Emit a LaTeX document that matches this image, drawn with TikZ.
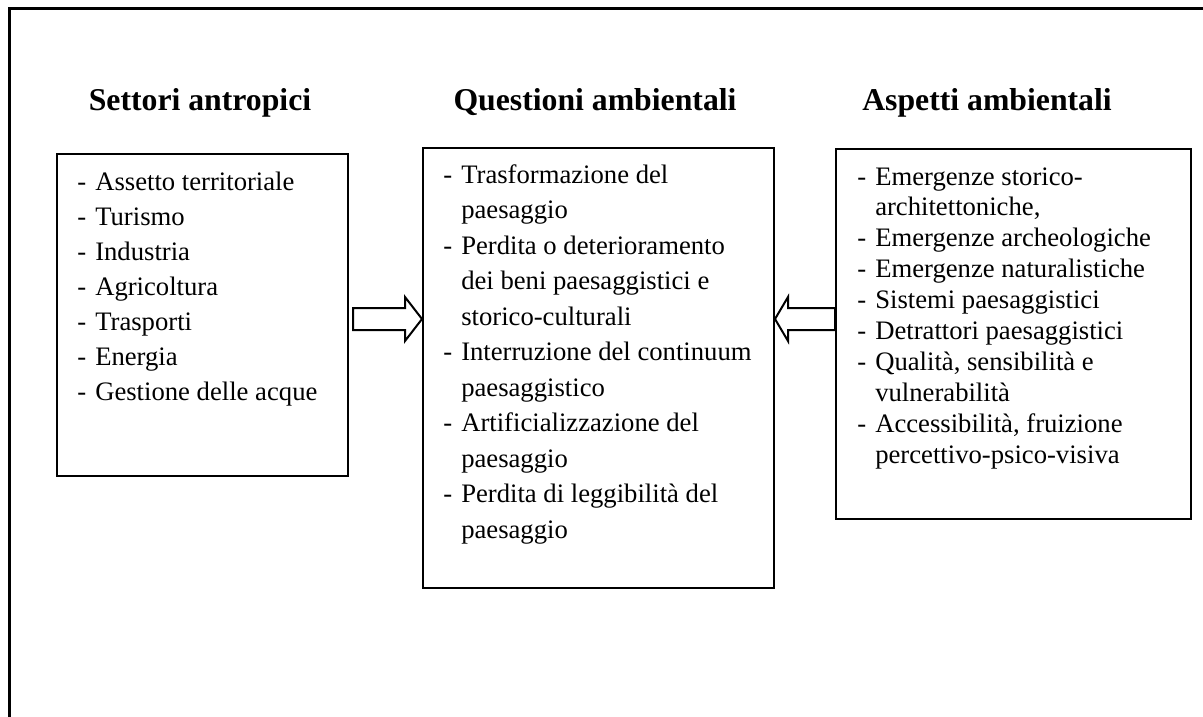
\documentclass[tikz,border=0pt]{standalone}
\usepackage{fontspec}
\setmainfont{Liberation Serif}
\begin{document}
\begin{tikzpicture}[x=0.75pt,y=-0.75pt,
  boxst/.style={draw,line width=1.5pt,inner sep=0pt,anchor=north west},
  item/.style={anchor=base west,inner sep=0pt,font=\fontsize{20}{24}\selectfont},
  dashst/.style={anchor=base west,inner sep=0pt,font=\fontsize{20}{24}\selectfont},
  titlest/.style={anchor=base,inner sep=0pt,font=\fontsize{23.8}{28}\selectfont\bfseries},
  framest/.style={line width=2.25pt},
  blockarrow/.style={draw,line width=1.5pt,fill=white,line join=miter}]
\useasboundingbox (0,0) rectangle (1203,717);
% outer frame (only top and left visible)
\draw[framest] (9,717) -- (9,9) -- (1203,9);
% boxes
\node[boxst,minimum width=218.25pt,minimum height=241.5pt] (lbox) at (56,153) {};
\node[boxst,minimum width=263.25pt,minimum height=330pt] (mbox) at (422,147) {};
\node[boxst,minimum width=266.25pt,minimum height=277.5pt] (rbox) at (835,148) {};
% titles
\node[titlest] (tl) at (200,111) {Settori antropici};
\node[titlest] (tm) at (595,111) {Questioni ambientali};
\node[titlest] (tr) at (987,111) {Aspetti ambientali};
% left items
\foreach \t [count=\i from 0] in {Assetto territoriale,Turismo,Industria,Agricoltura,Trasporti,Energia,Gestione delle acque}{
  \node[dashst] (ld\i) at (77,{190+35*\i}) {-};
  \node[item] (lt\i) at (95,{190+35*\i}) {\t};
}
% middle items
\foreach \t/\d [count=\i from 0] in {Trasformazione del/1,paesaggio/0,Perdita o deterioramento/1,dei beni paesaggistici e/0,storico-culturali/0,Interruzione del continuum/1,paesaggistico/0,Artificializzazione del/1,paesaggio/0,Perdita di leggibilità del/1,paesaggio/0}{
  \ifnum\d=1 \node[dashst] (md\i) at (443,{183+35.5*\i}) {-};\fi
  \node[item] (mt\i) at (461,{183+35.5*\i}) {\t};
}
% right items
\foreach \t/\d [count=\i from 0] in {Emergenze storico-/1,{architettoniche,}/0,Emergenze archeologiche/1,Emergenze naturalistiche/1,Sistemi paesaggistici/1,Detrattori paesaggistici/1,{Qualità, sensibilità e}/1,vulnerabilità/0,{Accessibilità, fruizione}/1,percettivo-psico-visiva/0}{
  \ifnum\d=1 \node[dashst] (rd\i) at (857,{185+30.9*\i}) {-};\fi
  \node[item] (rt\i) at (875,{185+30.9*\i}) {\t};
}
% block arrows
\draw[blockarrow] (353,308) -- (405,308) -- (405,297) -- (mbox.west |- 0,319) -- (405,341) -- (405,330) -- (353,330) -- cycle;
\draw[blockarrow] (rbox.west |- 0,308) -- (788,308) -- (788,297) -- (mbox.east |- 0,319) -- (788,341) -- (788,330) -- (rbox.west |- 0,330) -- cycle;
\end{tikzpicture}
\end{document}
